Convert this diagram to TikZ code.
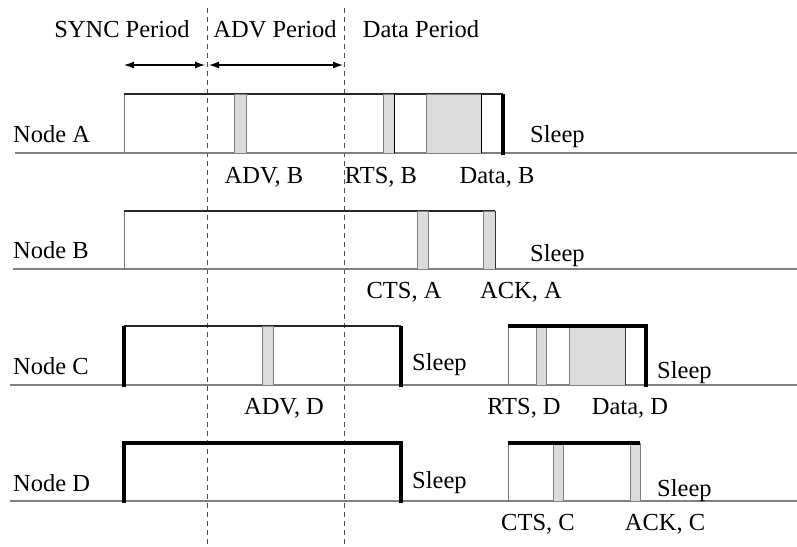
\documentclass[tikz,border=0pt]{standalone}
\usepackage{fontspec}
\setmainfont{Liberation Serif}
\usepackage{tikz}
\usetikzlibrary{arrows.meta}

\begin{document}
\begin{tikzpicture}[x=1pt, y=-1pt, font=\fontsize{24.5}{28}\selectfont, line join=miter]
      \tikzstyle{ground}=[draw=gray, line width=1.4pt]
      \tikzstyle{wall}=[draw=gray!90!black, line width=1pt]
      \tikzstyle{roof}=[draw=black!85, line width=1.1pt]
      \tikzstyle{heavy}=[draw=black, line width=3.2pt]
      \tikzstyle{packet}=[fill={rgb:black,1;white,6}, draw=gray, line width=1pt]
      \tikzstyle{period}=[dashed, dash pattern=on 5pt off 4pt, draw=black!70, line width=0.8pt]
      \tikzstyle{label}=[inner sep=0pt, anchor=base]
      \useasboundingbox (0,0) rectangle (797,546);

      % Periods
      \draw[period] (207,8) -- (207,546);
      \draw[period] (344,8) -- (344,546);
      \node[label] (sync) at (122,37) {SYNC Period};
      \node[label] (adv)  at (275,37) {ADV Period};
      \node[label] (data) at (421,37) {Data Period};
      \coordinate (s0) at (124,65);
      \coordinate (s1) at (205,65);
      \coordinate (s2) at (209,65);
      \coordinate (s3) at (343,65);
      \draw[{Latex[length=10pt,width=7pt]}-{Latex[length=10pt,width=7pt]}, line width=1.3pt] (s0) -- (s1);
      \draw[{Latex[length=10pt,width=7pt]}-{Latex[length=10pt,width=7pt]}, line width=1.3pt] (s2) -- (s3);

      % Node A
      \draw[ground] (15,153) -- (797,153);
      \draw[wall] (124,153) -- (124,94);
      \draw[roof] (124,94) -- (503,94);
      \draw[packet] (234,153) rectangle (246,94);
      \draw[packet] (383,153) rectangle (394,94);
      \draw[black, line width=1pt] (394,153) -- (394,94);
      \draw[packet] (426,153) rectangle (481,94);
      \draw[black, line width=1pt] (481,153) -- (481,94);
      \draw[heavy] (503,93.5) -- (503,155);
      \node[label, anchor=base west] (na) at (13,142) {Node A};
      \node[label, anchor=base west] (sa) at (530,142) {Sleep};
      \node[label] (advb)  at (264,183) {ADV, B};
      \node[label] (rtsb)  at (381,183) {RTS, B};
      \node[label] (datab) at (497,183) {Data, B};

      % Node B
      \draw[ground] (13,269) -- (797,269);
      \draw[wall] (124,269) -- (124,211);
      \draw[roof] (124,211) -- (495,211);
      \draw[packet] (417,269) rectangle (428,211);
      \draw[packet] (483,269) rectangle (495,211);
      \draw[black!80, line width=1pt] (495,269) -- (495,211);
      \node[label, anchor=base west] (nb) at (13,258) {Node B};
      \node[label, anchor=base west] (sb) at (530,261) {Sleep};
      \node[label] (ctsa) at (404,298) {CTS, A};
      \node[label] (acka) at (521,298) {ACK, A};

      % Node C
      \draw[ground] (10,385) -- (797,385);
      \draw[roof] (124,326) -- (401,326);
      \draw[heavy] (124,387) -- (124,325.5);
      \draw[heavy] (401,325.5) -- (401,387);
      \draw[packet] (262,385) rectangle (273,326);
      \draw[wall] (508,385) -- (508,326);
      \draw[packet] (536,385) rectangle (546,326);
      \draw[packet] (569,385) rectangle (625,326);
      \draw[black!80, line width=1pt] (625,385) -- (625,326);
      \draw[heavy] (508,326) -- (646,326) -- (646,387);
      \node[label, anchor=base west] (nc) at (13,374) {Node C};
      \node[label, anchor=base west] (sc1) at (412,370) {Sleep};
      \node[label, anchor=base west] (sc2) at (657,378) {Sleep};
      \node[label] (advd)  at (284,414) {ADV, D};
      \node[label] (rtsd)  at (524,414) {RTS, D};
      \node[label] (datad) at (630,414) {Data, D};

      % Node D
      \draw[ground] (10,501) -- (797,501);
      \draw[heavy] (124,503) -- (124,443) -- (401,443) -- (401,503);
      \draw[wall] (508,501) -- (508,443);
      \draw[packet] (553,501) rectangle (563,443);
      \draw[packet] (630,501) rectangle (640,443);
      \draw[heavy] (508,443) -- (640,443);
      \node[label, anchor=base west] (nd) at (13,491) {Node D};
      \node[label, anchor=base west] (sd1) at (412,488) {Sleep};
      \node[label, anchor=base west] (sd2) at (657,496) {Sleep};
      \node[label] (ctsc) at (538,530) {CTS, C};
      \node[label] (ackc) at (665,530) {ACK, C};
    \end{tikzpicture}
\end{document}
